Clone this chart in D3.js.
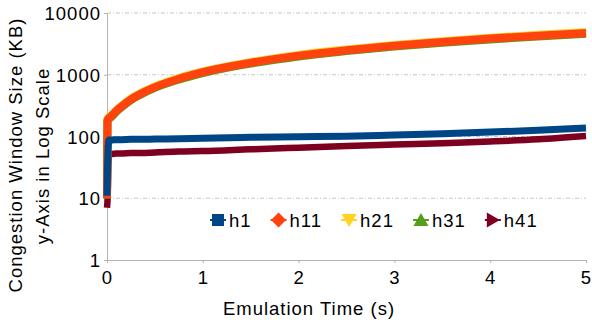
<!DOCTYPE html>
<html>
<head>
<script src="https://d3js.org/d3.v7.min.js"></script>
<style>
  body { margin: 0; background: #fff; }
  svg text { font-family: "Liberation Sans", Arial, sans-serif; font-size: 18.5px; fill: #000; letter-spacing: 1px; }
</style>
</head>
<body>
<div id="chart"></div>
<script>
// Emulation time (s)
var times = [0, 0.005, 0.02, 0.05, 0.1, 0.15, 0.25, 0.35, 0.5, 0.75, 1, 1.5, 2, 2.5, 3, 3.5, 4, 4.5, 5];

// Congestion window (KB) per host
var h1  = [11, 30, 88, 88, 89, 89, 90, 90, 91, 92, 94, 97, 99, 101, 106, 111, 118, 126, 137];
var h11 = [10, 185, 198, 218, 262, 305, 400, 490, 630, 860, 1100, 1560, 2040, 2490, 2950, 3400, 3850, 4300, 4750];
var h21 = [10, 192, 206, 226, 270, 314, 412, 505, 648, 885, 1130, 1605, 2100, 2565, 3040, 3500, 3965, 4430, 4890];
var h31 = [10, 178, 191, 210, 254, 296, 388, 475, 612, 835, 1065, 1515, 1980, 2415, 2860, 3300, 3735, 4170, 4610];
var h41 = [7, 9, 50, 52, 53, 53, 54, 54, 55, 57, 58, 62, 66, 70, 74, 78, 83, 90, 102];

var seriesNames = ["h1", "h11", "h21", "h31", "h41"];
var seriesColors = ["#004586", "#ff420e", "#ffd320", "#579d1c", "#7e0021"];
var seriesSymbols = ["square", "diamond", "down", "up", "right"];

var xTicks = [0, 1, 2, 3, 4, 5];
var yTicks = [1, 10, 100, 1000, 10000];

var width = 592, height = 322;
var margin = {top: 13, right: 6, bottom: 62, left: 107};

var svg = d3.select("#chart").append("svg")
    .attr("width", width)
    .attr("height", height);

var x = d3.scaleLinear().domain([0, 5]).range([margin.left, width - margin.right]);
var y = d3.scaleLog().domain([1, 10000]).range([height - margin.bottom, margin.top]);

// gridlines
svg.append("g")
    .selectAll("line")
    .data(yTicks.slice(1))
    .enter().append("line")
    .attr("x1", x(0)).attr("x2", x(5))
    .attr("y1", d => y(d)).attr("y2", d => y(d))
    .attr("stroke", "#c6c6c6")
    .attr("stroke-width", 1)
    .attr("stroke-dasharray", "4,2,1,2");

// axes
var xAxis = svg.append("g")
    .attr("transform", "translate(0," + y(1) + ")")
    .call(d3.axisBottom(x).tickValues(xTicks).tickFormat(d3.format("d")).tickSizeInner(3).tickSizeOuter(0).tickPadding(8));
var yAxis = svg.append("g")
    .attr("transform", "translate(" + x(0) + ",0)")
    .call(d3.axisLeft(y).tickValues(yTicks).tickFormat(d3.format("d")).tickSizeInner(3).tickSizeOuter(0).tickPadding(3));

[xAxis, yAxis].forEach(function(a) {
    a.select(".domain").attr("stroke", "#b3b3b3");
    a.selectAll(".tick line").attr("stroke", "#b3b3b3");
    a.selectAll("text").attr("font-family", null).attr("font-size", null).style("font-size", "18.5px");
});
yAxis.selectAll("text").attr("dy", "0.36em");
xAxis.selectAll("text").attr("dy", "0.71em");

// series
var line = d3.line()
    .x((d, i) => x(times[i]))
    .y(d => y(d))
    .curve(d3.curveMonotoneX);

var seriesData = [h1, h11, h21, h31, h41];
var drawOrder = [4, 2, 3, 1, 0];
var widths = [7, 8, 8, 8, 6.5];

svg.append("g")
    .selectAll("path")
    .data(drawOrder)
    .enter().append("path")
    .attr("d", i => line(seriesData[i]))
    .attr("fill", "none")
    .attr("stroke", i => seriesColors[i])
    .attr("stroke-width", i => widths[i])
    .attr("stroke-linejoin", "round");

// legend
function symbolPath(kind) {
    if (kind === "square") return "M-6,-6H6V6H-6Z";
    if (kind === "diamond") return "M0,-7.5L7.5,0L0,7.5L-7.5,0Z";
    if (kind === "down") return "M-7.5,-6L7.5,-6L0,7Z";
    if (kind === "up") return "M-7.5,6L7.5,6L0,-7Z";
    return "M-6,-7.5L7,0L-6,7.5Z";
}

var legend = svg.append("g");
var lx = 218, ly = 220;
seriesNames.forEach(function(name, i) {
    var g = legend.append("g").attr("transform", "translate(" + lx + "," + ly + ")");
    g.append("line")
        .attr("x1", -8).attr("x2", 8)
        .attr("stroke", seriesColors[i]).attr("stroke-width", 2);
    g.append("path")
        .attr("d", symbolPath(seriesSymbols[i]))
        .attr("fill", seriesColors[i]);
    var t = g.append("text")
        .attr("x", 11)
        .attr("dy", "0.36em")
        .text(name);
    lx += 11 + t.node().getComputedTextLength() + 27;
});

// axis titles
svg.append("text")
    .attr("x", 309)
    .attr("y", 315)
    .attr("text-anchor", "middle")
    .text("Emulation Time (s)");

svg.append("text")
    .attr("transform", "translate(22,155) rotate(-90)")
    .attr("text-anchor", "middle")
    .text("Congestion Window Size (KB)");
svg.append("text")
    .attr("transform", "translate(49,156) rotate(-90)")
    .attr("text-anchor", "middle")
    .text("y-Axis in Log Scale");
</script>
</body>
</html>
